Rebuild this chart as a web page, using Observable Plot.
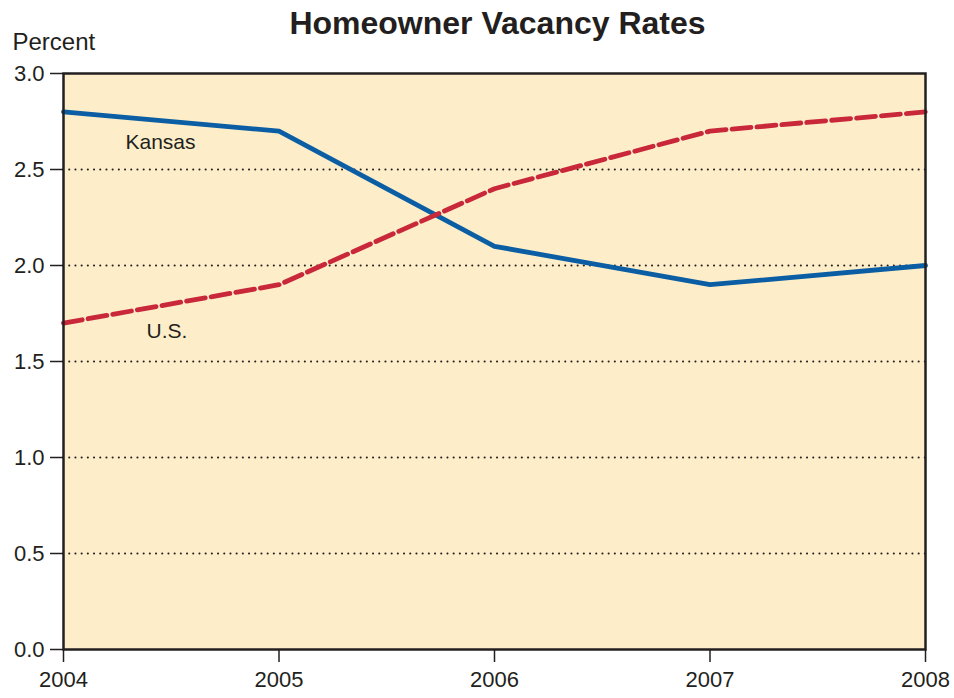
<!DOCTYPE html>
<html>
<head>
<meta charset="utf-8">
<script src="https://cdn.jsdelivr.net/npm/d3@7"></script>
<script src="https://cdn.jsdelivr.net/npm/@observablehq/plot@0.6"></script>
<style>
  html, body { margin: 0; padding: 0; background: #ffffff; }
  #chart svg { display: block; }
</style>
</head>
<body>
<div id="chart"></div>
<script>
const years = [2004, 2005, 2006, 2007, 2008];
const kansas = [2.8, 2.7, 2.1, 1.9, 2.0];
const us = [1.7, 1.9, 2.4, 2.7, 2.8];
const yTicks = [0, 0.5, 1.0, 1.5, 2.0, 2.5, 3.0];
const gridValues = [0.5, 1.0, 1.5, 2.0, 2.5];
const seriesLabels = [
  {name: "Kansas", year: 2004.45, value: 2.64},
  {name: "U.S.", year: 2004.48, value: 1.66}
];

const kansasData = years.map((y, i) => ({year: y, value: kansas[i]}));
const usData = years.map((y, i) => ({year: y, value: us[i]}));

const font = "'Liberation Sans', Arial, Helvetica, sans-serif";

const chart = Plot.plot({
  width: 954,
  height: 698,
  marginTop: 73,
  marginLeft: 63,
  marginRight: 29,
  marginBottom: 49,
  style: {fontFamily: font, background: "#ffffff", color: "#231f20"},
  x: {domain: [2004, 2008], ticks: years, tickFormat: "d"},
  y: {domain: [0, 3], ticks: yTicks, tickFormat: d3.format(".1f")},
  marks: [
    Plot.frame({fill: "#fdeec9", stroke: "none"}),
    Plot.ruleY(gridValues, {stroke: "#231f20", strokeWidth: 2, strokeDasharray: "0.1,6.1", strokeLinecap: "round"}),
    Plot.line(kansasData, {x: "year", y: "value", stroke: "#0b5ea3", strokeWidth: 4.8, strokeLinejoin: "round"}),
    Plot.line(usData, {x: "year", y: "value", stroke: "#c8283a", strokeWidth: 4.8, strokeDasharray: "19,6"}),
    Plot.text(seriesLabels, {x: "year", y: "value", text: "name", fontSize: 21, fill: "#231f20"}),
    Plot.axisX({ticks: years, tickFormat: "d", tickSize: 13, tickPadding: 9, fontSize: 22, stroke: "#231f20", strokeWidth: 1.5, label: null}),
    Plot.axisY({ticks: yTicks, tickFormat: d3.format(".1f"), tickSize: 13, tickPadding: 6, fontSize: 22, stroke: "#231f20", strokeWidth: 1.5, label: null}),
    Plot.frame({stroke: "#231f20", strokeWidth: 2.5}),
    Plot.text(["Homeowner Vacancy Rates"], {frameAnchor: "top", lineAnchor: "middle", dx: 3, dy: -50, fontSize: 32, fontWeight: "bold", fill: "#231f20"}),
    Plot.text(["Percent"], {frameAnchor: "top-left", textAnchor: "start", lineAnchor: "middle", dx: -51, dy: -31, fontSize: 24, fill: "#231f20"})
  ]
});

document.getElementById("chart").appendChild(chart);
</script>
</body>
</html>
